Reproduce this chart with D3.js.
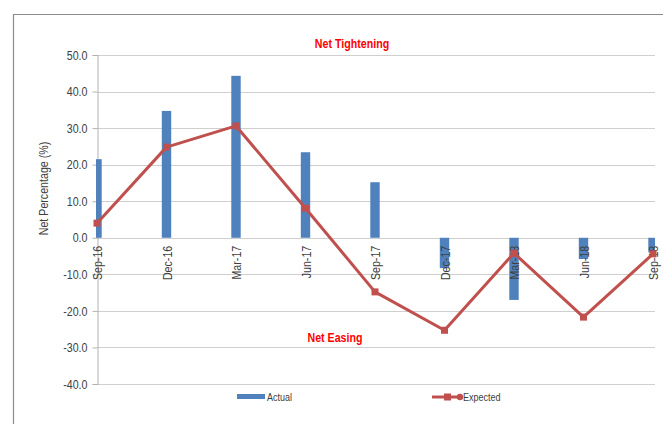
<!DOCTYPE html>
<html>
<head>
<meta charset="utf-8">
<script src="https://cdn.jsdelivr.net/npm/d3@7/dist/d3.min.js"></script>
<style>
  html, body { margin: 0; padding: 0; background: #fff; }
  svg { display: block; }
  text { font-family: "Liberation Sans", Arial, sans-serif; }
</style>
</head>
<body>
<svg id="chart" width="663" height="424"></svg>
<script>
// Quarterly survey: net percentage of lenders tightening (+) or easing (-)
const quarters = ["Sep-16", "Dec-16", "Mar-17", "Jun-17", "Sep-17", "Dec-17", "Mar-18", "Jun-18", "Sep-18"];
const actual   = [21.5, 34.7, 44.3, 23.4, 15.2, -8.3, -17.0, -5.8, -4.0];
const expected = [4.0, 24.8, 30.6, 8.1, -14.8, -25.3, -4.2, -21.7, -4.4];
const yTicks   = [50, 40, 30, 20, 10, 0, -10, -20, -30, -40];

const BAR = "#4f81bd", LINE = "#c0504d", RED = "#ff0000", INK = "#404040";
const NARROW = 0.82; // horizontal squeeze for a condensed type look

// compress text horizontally while keeping its anchor point in place
function condense(sel) {
  sel.each(function () {
    const t = d3.select(this);
    const x0 = +t.attr("x") || 0;
    t.attr("x", x0 / NARROW);
    const tr = t.attr("transform") || "";
    t.attr("transform", (tr + ` scale(${NARROW},1)`).trim());
  });
}

const svg = d3.select("#chart");
const plot = { left: 97, right: 655, top: 55, bottom: 384 };

const x = d3.scalePoint().domain(quarters).range([97, 653]).padding(0);
const y = d3.scaleLinear().domain([-40, 50]).range([plot.bottom, plot.top]);

// chart frame
svg.append("path")
  .attr("d", "M13.5,424 V14.5 H663")
  .attr("fill", "none").attr("stroke", "#8c8c8c").attr("stroke-width", 1.2);

// horizontal gridlines
svg.append("g").selectAll("line").data(yTicks).join("line")
  .attr("x1", plot.left).attr("x2", plot.right)
  .attr("y1", d => Math.round(y(d)) + 0.5).attr("y2", d => Math.round(y(d)) + 0.5)
  .attr("stroke", "#cfcfcf").attr("stroke-width", 1);

// y axis (plain hyphen for negatives)
const yAxis = d3.axisLeft(y).tickValues(yTicks).tickFormat(d => d.toFixed(1)).tickSize(5).tickPadding(5);
const gy = svg.append("g").attr("transform", `translate(${plot.left + 0.5},0)`).call(yAxis);
gy.select(".domain").attr("stroke", "#b3b3b3");
gy.selectAll(".tick line").attr("stroke", "#b3b3b3");
gy.selectAll(".tick text").attr("fill", INK).style("font-size", "13px")
  .style("font-family", "'Liberation Sans', Arial, sans-serif")
  .call(condense);

// y axis title
svg.append("text")
  .attr("transform", `translate(48,${(140 + 237) / 2}) rotate(-90)`)
  .attr("text-anchor", "middle")
  .attr("fill", INK).style("font-size", "13px")
  .text("Net Percentage (%)")
  .call(condense);

// bars, clipped to the plot area
svg.append("clipPath").attr("id", "plotClip")
  .append("rect").attr("x", 96).attr("y", 0).attr("width", plot.right - 96).attr("height", 424);

const barW = 9.4;
svg.append("g").attr("clip-path", "url(#plotClip)")
  .selectAll("rect").data(quarters).join("rect")
  .attr("x", d => x(d) - barW / 2)
  .attr("width", barW)
  .attr("y", (d, i) => y(Math.max(0, actual[i])))
  .attr("height", (d, i) => Math.abs(y(actual[i]) - y(0)))
  .attr("fill", BAR);

// category labels, rotated, hanging below the zero line
const xAxis = d3.axisBottom(x).tickSize(0).tickPadding(0);
const gx = svg.append("g").attr("transform", `translate(0,${y(0)})`).call(xAxis);
gx.select(".domain").remove();
gx.selectAll(".tick text")
  .attr("transform", "rotate(-90)")
  .attr("x", -8).attr("y", 0).attr("dy", "0.35em")
  .attr("text-anchor", "end")
  .attr("fill", INK).style("font-size", "13px")
  .style("font-family", "'Liberation Sans', Arial, sans-serif")
  .call(condense);

// expected line with square markers
const line = d3.line().x((d, i) => x(quarters[i])).y(d => y(d));
svg.append("path").datum(expected)
  .attr("d", line).attr("fill", "none")
  .attr("stroke", LINE).attr("stroke-width", 3).attr("stroke-linejoin", "round");
const mk = 7;
svg.append("g").selectAll("rect").data(expected).join("rect")
  .attr("x", (d, i) => x(quarters[i]) - mk / 2)
  .attr("y", d => y(d) - mk / 2)
  .attr("width", mk).attr("height", mk)
  .attr("fill", LINE);

// region annotations
svg.append("text").attr("x", 352).attr("y", 48).attr("text-anchor", "middle")
  .attr("fill", RED).style("font-size", "13px").style("font-weight", "bold")
  .text("Net Tightening").call(condense);
svg.append("text").attr("x", 335).attr("y", 342).attr("text-anchor", "middle")
  .attr("fill", RED).style("font-size", "13px").style("font-weight", "bold")
  .text("Net Easing").call(condense);

// legend
const lg = svg.append("g");
lg.append("rect").attr("x", 237).attr("y", 394).attr("width", 28).attr("height", 5).attr("fill", BAR);
lg.append("text").attr("x", 267).attr("y", 397).attr("dy", "0.35em")
  .attr("fill", INK).style("font-size", "11px").text("Actual").call(condense);
lg.append("line").attr("x1", 432).attr("x2", 462).attr("y1", 397).attr("y2", 397)
  .attr("stroke", LINE).attr("stroke-width", 3);
lg.append("rect").attr("x", 444).attr("y", 393.5).attr("width", 7).attr("height", 7).attr("fill", LINE);
lg.append("circle").attr("cx", 460).attr("cy", 397).attr("r", 3.2).attr("fill", LINE);
lg.append("text").attr("x", 463).attr("y", 397).attr("dy", "0.35em")
  .attr("fill", INK).style("font-size", "11px").text("Expected").call(condense);
</script>
</body>
</html>
